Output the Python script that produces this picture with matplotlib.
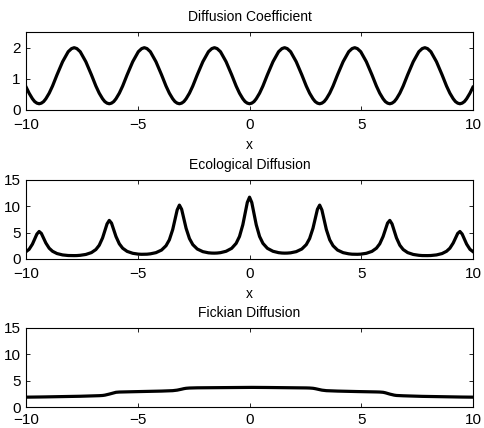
import numpy as np
import matplotlib.pyplot as plt

plt.rcParams['font.family'] = ['Liberation Sans', 'DejaVu Sans']

# sample positions (x >= 0); the curves are symmetric about x = 0
x_half = [0.00, 0.10, 0.20, 0.30, 0.45, 0.60, 0.80, 1.05, 1.30, 1.45, 1.57, 1.69,
          1.84, 2.09, 2.34, 2.54, 2.69, 2.84, 2.94, 3.04, 3.14, 3.24,
          3.34, 3.44, 3.59, 3.74, 3.94, 4.19, 4.44, 4.59, 4.71, 4.83,
          4.98, 5.23, 5.48, 5.68, 5.83, 5.98, 6.08, 6.18, 6.28, 6.38,
          6.48, 6.58, 6.73, 6.88, 7.08, 7.33, 7.58, 7.73, 7.85, 7.97,
          8.12, 8.37, 8.62, 8.82, 8.97, 9.12, 9.22, 9.32, 9.42, 9.52,
          9.62, 9.72, 9.87, 10.00]

# diffusion coefficient D(x)
diff_half = [0.20, 0.22, 0.27, 0.36, 0.54, 0.77, 1.13, 1.55, 1.87, 1.97, 2.00, 1.97,
             1.87, 1.55, 1.13, 0.77, 0.54, 0.36, 0.27, 0.22, 0.20, 0.22,
             0.27, 0.36, 0.54, 0.77, 1.13, 1.55, 1.87, 1.97, 2.00, 1.97,
             1.87, 1.55, 1.13, 0.77, 0.54, 0.36, 0.27, 0.22, 0.20, 0.22,
             0.27, 0.36, 0.54, 0.77, 1.13, 1.55, 1.87, 1.97, 2.00, 1.97,
             1.87, 1.55, 1.13, 0.77, 0.54, 0.36, 0.27, 0.22, 0.20, 0.22,
             0.27, 0.36, 0.54, 0.73]

# ecological diffusion solution
eco_half = [11.70, 10.70, 8.57, 6.48, 4.25, 2.95, 2.01, 1.45, 1.19, 1.12, 1.10, 1.11,
            1.16, 1.38, 1.88, 2.71, 3.86, 5.80, 7.60, 9.41, 10.20, 9.28,
            7.39, 5.56, 3.62, 2.50, 1.68, 1.19, 0.97, 0.90, 0.88, 0.88,
            0.91, 1.07, 1.43, 2.03, 2.86, 4.25, 5.53, 6.79, 7.30, 6.64,
            5.29, 3.98, 2.59, 1.78, 1.20, 0.85, 0.69, 0.64, 0.63, 0.63,
            0.65, 0.76, 1.02, 1.45, 2.03, 3.02, 3.94, 4.83, 5.20, 4.72,
            3.75, 2.81, 1.82, 1.40]

# fickian diffusion solution
fick_half = [3.72, 3.72, 3.72, 3.72, 3.71, 3.71, 3.70, 3.69, 3.68, 3.67, 3.67, 3.66,
             3.66, 3.65, 3.64, 3.62, 3.60, 3.55, 3.48, 3.38, 3.28, 3.20,
             3.14, 3.10, 3.07, 3.05, 3.02, 2.99, 2.96, 2.95, 2.94, 2.93,
             2.92, 2.90, 2.88, 2.86, 2.84, 2.79, 2.70, 2.57, 2.45, 2.34,
             2.25, 2.19, 2.15, 2.13, 2.10, 2.07, 2.04, 2.02, 2.01, 2.00,
             1.99, 1.97, 1.95, 1.94, 1.93, 1.92, 1.91, 1.90, 1.90, 1.89,
             1.89, 1.88, 1.88, 1.87]

x_ticks = [-10, -5, 0, 5, 10]


def mirror(v, sign=1):
    v = np.array(v)
    return np.concatenate([sign * v[:0:-1], v])


x = mirror(x_half, -1)

fig = plt.figure(figsize=(4.85, 4.28), dpi=100)
ax1 = fig.add_axes([0.054, 0.743, 0.921, 0.182])
ax2 = fig.add_axes([0.054, 0.395, 0.921, 0.185])
ax3 = fig.add_axes([0.054, 0.049, 0.921, 0.185])

panels = [(ax1, diff_half, 'Diffusion Coefficient', (0, 2.5), [0, 1, 2], True),
          (ax2, eco_half, 'Ecological Diffusion', (0, 15), [0, 5, 10, 15], True),
          (ax3, fick_half, 'Fickian Diffusion', (0, 15), [0, 5, 10, 15], False)]

for ax, vals, title, ylim, yt, show_x in panels:
    ax.plot(x, mirror(vals), color='black', lw=2.3)
    ax.set_xlim(-10, 10)
    ax.set_ylim(*ylim)
    ax.set_xticks(x_ticks)
    ax.set_yticks(yt)
    ax.set_title(title, fontsize=10, pad=8)
    if show_x:
        ax.set_xlabel('x', fontsize=10, labelpad=4)
    ax.tick_params(direction='in', top=True, right=True, length=3,
                   width=0.6, labelsize=11)
    ax.tick_params(axis='x', pad=6 if show_x else 4)
    ax.tick_params(axis='y', pad=4)
    for s in ax.spines.values():
        s.set_linewidth(0.8)

fig.savefig('out.png', dpi=100)
